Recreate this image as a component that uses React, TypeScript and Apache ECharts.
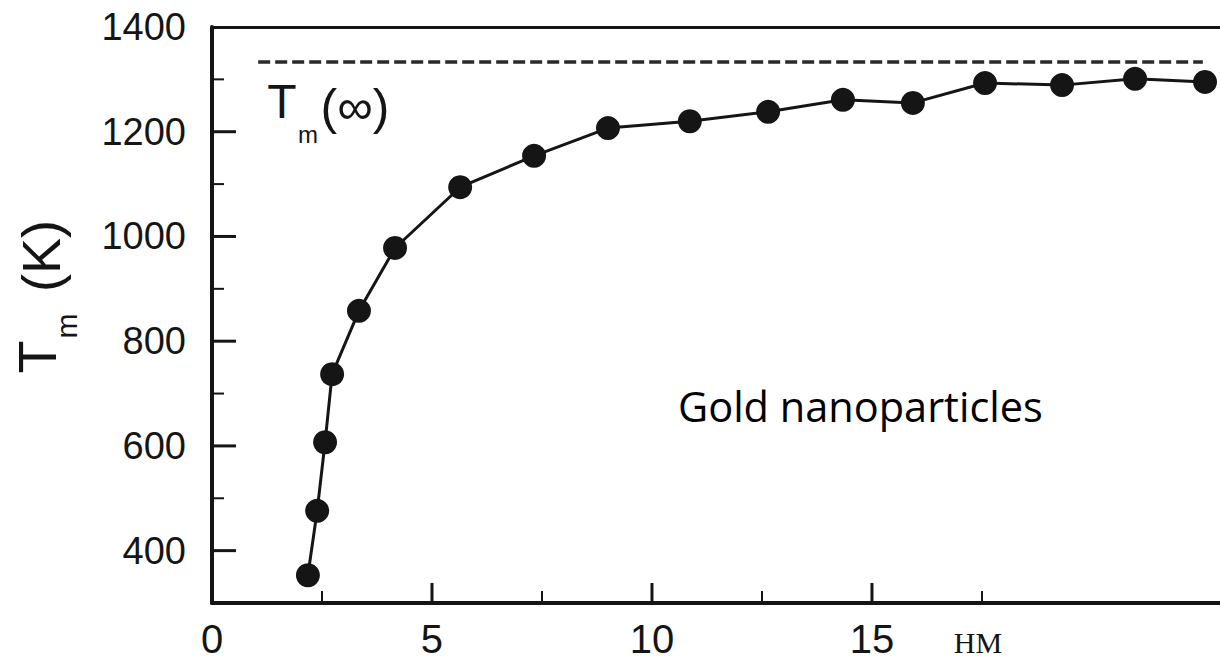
import React, { useEffect, useRef } from "react";
import * as echarts from "echarts";

// Particle size (x) and melting temperature Tm in K (y)
const sizeValues = [2.18, 2.39, 2.57, 2.73, 3.34, 4.16, 5.64, 7.32, 9.0, 10.86, 12.64, 14.34, 15.93, 17.57, 19.32, 20.98, 22.57];
const meltValues = [353, 476, 607, 737, 858, 978, 1094, 1154, 1207, 1220, 1238, 1261, 1255, 1293, 1289, 1301, 1295];

// Bulk melting temperature Tm(∞) reference line
const bulkX = [1.05, 22.52];
const bulkY = [1333, 1333];

// Axis ranges, labels and ticks
const X_MIN = 0;
const X_MAX = 22.91;
const X_LABEL_STEP = 5;
const X_LABEL_LAST = 15;
const Y_MIN = 300;
const Y_MAX = 1400;
const Y_STEP = 100;
const Y_LABEL_STEP = 200;
const xMajorTicks = [5, 10, 15];
const xMinorTicks = [2.5, 7.5, 12.5, 17.5];
const yMajorTicks = [400, 600, 800, 1000, 1200];
const yMinorTicks = [500, 700, 900, 1100, 1300];

const INK = "#151515";
const SANS = "'Liberation Sans', Arial, sans-serif";

export default function App() {
  const ref = useRef<HTMLDivElement | null>(null);

  useEffect(() => {
    if (!ref.current) return;
    const chart = echarts.init(ref.current, undefined, { renderer: "svg" });

    const points = sizeValues.map((x, i) => [x, meltValues[i]]);
    const bulk = bulkX.map((x, i) => [x, bulkY[i]]);
    const hidden = { show: false };

    const texts: any[] = [
      // y-axis title: T_m (K), rotated
      { type: "text", x: 37, y: 357, rotation: Math.PI / 2, style: { text: "T", fontSize: 54, fontFamily: SANS, fill: INK, align: "center", verticalAlign: "middle" } },
      { type: "text", x: 66, y: 326, rotation: Math.PI / 2, style: { text: "m", fontSize: 30, fontFamily: SANS, fill: INK, align: "center", verticalAlign: "middle" } },
      { type: "text", x: 41, y: 256, rotation: Math.PI / 2, style: { text: "(K)", fontSize: 54, fontFamily: SANS, fill: INK, align: "center", verticalAlign: "middle" } },
      // Tm(∞) label
      { type: "text", x: 282, y: 101, style: { text: "T", fontSize: 48, fontFamily: SANS, fill: INK, align: "center", verticalAlign: "middle" } },
      { type: "text", x: 308, y: 134, style: { text: "m", fontSize: 24, fontFamily: SANS, fill: INK, align: "center", verticalAlign: "middle" } },
      { type: "text", x: 355, y: 107, style: { text: "(∞)", fontSize: 50, fontFamily: SANS, fill: INK, align: "center", verticalAlign: "middle" } },
      // unit mark under the x axis
      { type: "text", x: 978, y: 642, style: { text: "HM", fontSize: 30, fontFamily: "'Liberation Serif', 'Times New Roman', serif", fill: INK, align: "center", verticalAlign: "middle" } },
      // annotation
      { type: "text", x: 678, y: 406, style: { text: "Gold nanoparticles", fontSize: 41.5, fontFamily: "'Open Sans', 'Noto Sans', sans-serif", fill: "#000", align: "left", verticalAlign: "middle" } },
    ];

    chart.setOption({
      animation: false,
      backgroundColor: "#ffffff",
      grid: { left: 212, top: 27, width: 1008, height: 576 },
      xAxis: [
        {
          type: "value", min: X_MIN, max: X_MAX, interval: X_LABEL_STEP, position: "bottom",
          axisLine: { show: true, lineStyle: { color: INK, width: 4 } },
          axisTick: hidden,
          axisLabel: {
            show: true, fontSize: 40, fontFamily: SANS, color: INK, margin: 16, showMaxLabel: false,
            formatter: (v: number) => (v <= X_LABEL_LAST ? String(v) : ""),
          },
          splitLine: hidden,
        },
        {
          type: "value", min: X_MIN, max: X_MAX, position: "top",
          axisLine: { show: true, lineStyle: { color: INK, width: 3 } },
          axisTick: hidden, axisLabel: hidden, splitLine: hidden,
        },
      ],
      yAxis: {
        type: "value", min: Y_MIN, max: Y_MAX, interval: Y_STEP, position: "left",
        axisLine: { show: true, lineStyle: { color: INK, width: 4 } },
        axisTick: hidden,
        axisLabel: {
          show: true, fontSize: 38, fontFamily: SANS, color: INK, margin: 26,
          formatter: (v: number) => (v % Y_LABEL_STEP === 0 ? String(v) : ""),
        },
        splitLine: hidden,
      },
      series: [
        {
          type: "line", xAxisIndex: 0, yAxisIndex: 0, data: bulk, symbol: "none",
          lineStyle: { color: "#2a2a2a", width: 3.5, type: [12, 5] }, silent: true, z: 1,
        },
        {
          type: "line", xAxisIndex: 0, yAxisIndex: 0, data: points, symbol: "circle", symbolSize: 24, clip: false,
          lineStyle: { color: INK, width: 3 }, itemStyle: { color: INK, borderWidth: 0 }, z: 3,
        },
      ],
      graphic: texts,
    });

    // Inward ticks, positioned through the chart's own scales
    const toPx = (x: number, y: number) => chart.convertToPixel({ gridIndex: 0 }, [x, y]) as number[];
    const ticks: any[] = [];
    const xTick = (v: number, len: number, w: number) => {
      const [px, py] = toPx(v, Y_MIN);
      ticks.push({ type: "line", shape: { x1: px, y1: py, x2: px, y2: py - len }, style: { stroke: INK, lineWidth: w }, z: 10 });
    };
    const yTick = (v: number, len: number, w: number) => {
      const [px, py] = toPx(X_MIN, v);
      ticks.push({ type: "line", shape: { x1: px, y1: py, x2: px + len, y2: py }, style: { stroke: INK, lineWidth: w }, z: 10 });
    };
    xMajorTicks.forEach((v) => xTick(v, 20, 3));
    xMinorTicks.forEach((v) => xTick(v, 12, 2));
    yMajorTicks.forEach((v) => yTick(v, 24, 3));
    yMinorTicks.forEach((v) => yTick(v, 12, 2));

    chart.setOption({ graphic: [...texts, ...ticks] }, { replaceMerge: ["graphic"] });

    return () => chart.dispose();
  }, []);

  return (
    <div ref={ref} style={{ position: "absolute", left: 0, top: 0, width: 1220, height: 661, background: "#fff" }} />
  );
}
